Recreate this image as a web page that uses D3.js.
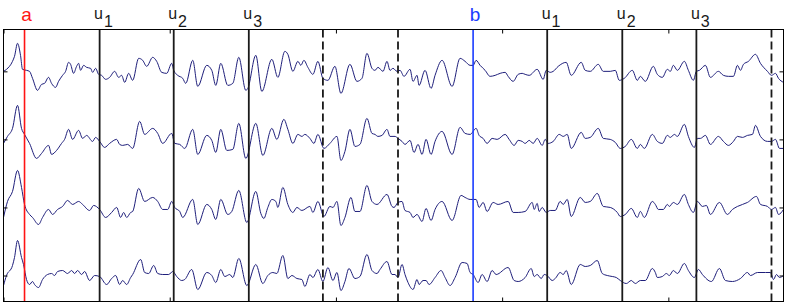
<!DOCTYPE html>
<html>
<head>
<meta charset="utf-8">
<script src="https://cdn.jsdelivr.net/npm/d3@7"></script>
<style>
	body{margin:0;background:#fff;}
	svg{display:block;font-family:"Liberation Sans",Arial,Helvetica,sans-serif;}
</style>
</head>
<body>
<div id="chart"></div>
<script>
//Recording: 1 sample per 1/166 s, amplitude in uV, 68 uV between channel baselines
const fs = 166;
const nSamples = 779;
const uvPerChannel = 68;
const channels = [1,2,3,4];
const xTicks = [0,1,2,3,4]; //seconds
const yTicks = [1,2,3,4];   //channel baselines

//Event markers, in samples
const markerSamples = [21,96,170,245,319,394,469,543,618,692,767];
const markerKinds = ['a','u','u','u','dash','dash','b','u','u','u','dash'];
const markerLabels = ['a','u','u','u','','','b','u','u','u',''];
const markerSubs = ['','1','2','3','','','','1','2','3',''];

//Traces: [sample, uV] keypoints
const trace1 = [[0,0],[3,2],[9,10],[11,15],[14,28],[17,16],[19,2],[23,1],[26,0],[29,-7],[34,-19],[38,-13],[41,-12],[45,-6],[48,-12],[52,-16],[55,-10],[59,-4],[62,0],[65,9],[67,7],[70,-2],[73,5],[75,8],[77,1],[80,6],[83,4],[87,3],[89,-1],[92,3],[95,-3],[98,-4],[102,-8],[106,-6],[111,0],[115,-6],[118,-4],[121,-11],[125,-2],[129,-9],
	[135,13],[139,11],[143,5],[149,14],[153,10],[158,-1],[163,-2],[168,8],[170,1],[174,-4],[179,-7],[182,-12],[189,11],[194,-15],[203,6],[208,1],[212,-14],[217,8],[224,-14],[229,-12],[235,14],[242,-19],[244,-17],[252,16],[258,-20],
	[268,12],[274,-6],[281,20],[284,17],[289,0],[294,10],[297,6],[300,11],[304,4],[309,-3],[314,10],[319,-7],[324,-9],[331,5],[337,-22],[346,7],[353,-10],[358,-7],[363,18],[368,3],[371,1],[374,4],[379,0],[383,10],[386,1],
	[389,3],[393,0],[396,1],[400,-5],[406,2],[409,-10],[413,-4],[415,-14],[421,1],[427,-17],[431,-4],[438,11],[448,-15],[456,13],[461,10],[466,6],[469,6],[472,11],[476,6],[481,1],[486,-5],[491,-4],[496,-2],[501,-1],[504,-5],[509,-10],[514,-3],[518,-2],
	[521,-3],[525,-4],[533,2],[539,-8],[542,1],[546,-1],[549,0],[554,5],[562,9],[567,-4],[577,9],[581,1],[586,0],[594,7],[599,0],[606,0],[611,1],[615,-9],[620,-7],[628,1],[633,-9],[636,-5],[641,-10],[649,5],
	[653,-3],[658,-6],[663,2],[666,0],[669,6],[673,1],[680,10],[684,1],[689,-9],[692,0],[695,1],[701,6],[706,-6],[714,0],[719,-4],[724,-5],[729,-5],[733,6],[736,1],[739,7],[744,10],[751,17],[756,8],[763,0],[767,-4],[771,-2],[774,-7],[779,-11]];

const trace2 = [[0,-4],[4,3],[9,11],[14,34],[18,11],[21,5],[26,-4],[33,-19],[38,-14],[45,-6],[48,-15],[53,-11],[58,-4],[61,0],[65,10],[69,0],[75,9],[79,1],[83,4],[89,-2],[92,2],[96,-2],[101,-8],[106,-4],[113,0],[116,-5],[119,-6],[124,-5],[129,-9],
	[136,18],[141,5],[149,11],[154,6],[159,-4],[168,6],[171,-4],[176,-5],[181,-9],[189,10],[194,-15],[203,4],[208,-1],[212,-13],[217,10],[223,-11],[229,-10],[235,16],[242,-19],[252,16],[259,-16],
	[268,11],[273,0],[280,20],[284,10],[289,-4],[294,5],[298,3],[301,5],[306,1],[310,-4],[314,5],[320,-9],[326,-4],[333,3],[337,-21],[341,-12],[346,10],[351,-7],[356,-5],[363,21],[368,6],[371,5],[374,3],[378,4],[383,10],[386,3],
	[391,3],[394,1],[398,-2],[401,-5],[406,-1],[410,-13],[414,-5],[418,-15],[422,0],[427,-15],[431,-2],[438,8],[448,-15],[456,12],[461,6],[466,5],[472,11],[475,4],[479,1],[483,-4],[488,1],[493,0],[501,5],[505,0],[510,-6],[514,-1],[518,-2],
	[521,-4],[525,-1],[529,-4],[533,1],[538,-6],[541,0],[544,-4],[549,-2],[555,5],[559,3],[563,5],[567,-9],[577,7],[581,1],[586,2],[594,11],[599,1],[606,0],[611,-3],[616,-9],[621,-7],[627,0],[633,-9],[636,-5],[640,-9],[648,5],
	[653,-2],[658,-4],[663,4],[666,2],[670,5],[673,3],[680,15],[684,3],[690,-8],[693,1],[696,1],[701,4],[706,-5],[714,3],[719,-2],[724,-6],[729,-2],[733,3],[738,2],[743,4],[748,5],[751,14],[756,3],[763,-2],[767,-2],[771,0],[775,-9],[779,-9]];

const trace3 = [[0,-10],[4,6],[9,16],[14,37],[18,20],[21,3],[26,-7],[29,-10],[35,-17],[39,-10],[45,-2],[49,-7],[54,-2],[59,1],[64,7],[69,3],[75,6],[79,3],[86,-3],[90,2],[96,-2],[102,-10],[108,-5],[113,0],[117,-10],[120,-5],[123,-10],[127,-5],[129,-4],
	[135,19],[141,6],[149,10],[154,6],[159,-2],[164,-2],[168,6],[171,0],[176,-4],[179,-10],[189,8],[194,-17],[203,3],[208,-2],[212,-12],[217,8],[224,-7],[228,-4],[235,17],[243,-15],[252,16],[257,-6],[260,-11],
	[264,0],[268,8],[272,6],[274,0],[279,20],[284,3],[289,-5],[293,0],[298,-3],[306,1],[309,-5],[314,6],[320,-9],[326,1],[329,0],[333,6],[337,-18],[341,-10],[347,10],[351,-4],[356,-4],[363,22],[368,6],[373,3],[383,13],[388,1],
	[390,0],[394,5],[398,6],[401,-3],[406,-5],[409,-10],[413,-7],[418,-14],[422,-1],[427,-13],[431,-2],[438,6],[448,-13],[457,12],[461,10],[466,8],[472,8],[475,0],[479,5],[483,-4],[489,5],[494,3],[504,6],[509,-5],[514,-5],
	[521,-4],[528,5],[530,-2],[533,4],[535,-4],[538,0],[542,-5],[546,-3],[551,-3],[556,6],[559,3],[563,8],[567,-9],[576,10],[581,5],[586,6],[593,14],[599,1],[606,0],[613,-5],[616,-9],[621,-7],[627,-1],[633,-10],[636,-4],[640,-10],[648,6],
	[651,3],[654,-2],[659,-2],[663,3],[665,1],[669,5],[673,3],[680,13],[684,3],[689,-5],[693,6],[698,1],[702,2],[706,-7],[715,5],[723,-7],[728,-2],[733,1],[743,5],[752,11],[756,3],[763,1],[767,-2],[771,0],[774,-7],[779,-2]];

const trace4 = [[0,-10],[3,0],[9,10],[11,18],[14,35],[18,18],[20,11],[23,-4],[26,-9],[29,-6],[31,-9],[35,-12],[39,-4],[44,1],[48,2],[51,0],[54,4],[59,5],[64,2],[68,5],[71,2],[74,5],[78,1],[81,4],[86,-5],[91,0],[96,-1],[103,-9],[108,-3],[112,0],[116,-9],[119,-5],[123,-9],[127,-2],[129,1],
	[137,16],[141,3],[145,2],[150,10],[154,2],[159,1],[165,1],[169,4],[173,-1],[178,-5],[181,-4],[188,6],[194,-14],[203,3],[208,0],[212,-7],[217,6],[221,-1],[226,1],[229,-2],[235,17],[243,-10],[252,11],[259,-8],
	[264,0],[269,3],[273,2],[279,20],[284,-3],[288,0],[293,-3],[298,-4],[301,-11],[306,1],[309,-2],[314,6],[319,-6],[324,8],[329,-5],[333,3],[337,-15],[341,-6],[345,7],[351,-3],[356,-1],[363,21],[368,5],[373,2],[376,6],[383,14],[388,1],
	[391,1],[394,-2],[398,11],[401,1],[404,-7],[409,-14],[413,-4],[415,-9],[419,-5],[422,-5],[425,-9],[431,-2],[437,5],[441,-2],[446,-10],[451,-2],[458,13],[463,12],[466,3],[469,1],[474,-7],[478,1],[483,-6],[488,5],[492,1],[504,8],[510,-5],[514,-6],
	[521,-2],[527,7],[530,-1],[533,1],[537,-3],[540,1],[543,0],[548,-5],[551,-3],[556,3],[559,1],[562,5],[567,-9],[576,11],[581,9],[586,10],[593,15],[598,2],[603,0],[608,-1],[612,-2],[616,-5],[622,-8],[627,-5],[631,-8],[636,-5],[641,-5],[648,7],
	[651,3],[653,-2],[658,-1],[662,2],[665,0],[669,5],[673,2],[680,12],[684,5],[690,-2],[694,6],[698,1],[707,-6],[715,7],[721,-5],[728,-6],[736,-3],[743,3],[746,0],[753,3],[761,3],[766,3],[769,-4],[772,1],[775,-2],[779,0]];

const traces = [trace1,trace2,trace3,trace4];

//Layout
const width = 788;
const height = 306;
const plot = {l:3.5, r:783.5, t:29.5, b:301.5};

const svg = d3.select('#chart').append('svg')
	.attr('width',width)
	.attr('height',height);

//Scales
const scaleX = d3.scaleLinear().domain([0, nSamples/fs]).range([plot.l, plot.r]);
const scaleY = d3.scaleLinear().domain([0.385, 4.382]).range([plot.t, plot.b]);

svg.append('clipPath').attr('id','clip')
	.append('rect')
	.attr('x',plot.l).attr('y',plot.t)
	.attr('width',plot.r-plot.l).attr('height',plot.b-plot.t);

//Traces
const line = d3.line()
	.x(d => scaleX(d[0]/fs))
	.y(d => scaleY(d[2] - d[1]/uvPerChannel))
	.curve(d3.curveMonotoneX);

svg.append('g')
	.attr('clip-path','url(#clip)')
	.selectAll('.trace')
	.data(traces.map((tr,i) => tr.map(p => [p[0],p[1],channels[i]])))
	.enter()
	.append('path')
	.attr('class','trace')
	.attr('d', line)
	.style('fill','none')
	.style('stroke','#1e1e7a')
	.style('stroke-width',1);

//Event markers
const markerColor = {a:'#ff1414', b:'#1a3cff', u:'#1a1a1a', dash:'#1a1a1a'};
const markers = markerSamples.map((s,i) => ({s, kind:markerKinds[i], label:markerLabels[i], sub:markerSubs[i]}));

svg.selectAll('.marker')
	.data(markers)
	.enter()
	.append('line')
	.attr('class','marker')
	.attr('x1', d => scaleX(d.s/fs))
	.attr('x2', d => scaleX(d.s/fs))
	.attr('y1', plot.t)
	.attr('y2', plot.b)
	.style('stroke', d => markerColor[d.kind])
	.style('stroke-width', d => d.kind === 'u' || d.kind === 'dash' ? 1.8 : 1.6)
	.style('stroke-dasharray', d => d.kind === 'dash' ? '8,4' : null);

//Labels
const labels = svg.selectAll('.label')
	.data(markers.filter(d => d.label))
	.enter()
	.append('text')
	.attr('class','label')
	.attr('x', d => d.sub ? scaleX(d.s/fs) - 5.5 : scaleX(d.s/fs) + 2)
	.attr('y', d => d.sub ? 18.5 : 21)
	.attr('text-anchor', d => d.sub ? 'start' : 'middle')
	.style('font-size', d => d.sub ? '16px' : '19px')
	.style('fill', d => markerColor[d.kind]);
labels.append('tspan').text(d => d.label);
labels.filter(d => d.sub)
	.append('tspan')
	.attr('dx',1)
	.attr('dy',8.3)
	.text(d => d.sub);

//Axes: ticks inside the box on all four sides, no labels
const axes = [
	[d3.axisBottom(scaleX).tickValues(xTicks), `translate(0,${plot.b})`],
	[d3.axisTop(scaleX).tickValues(xTicks), `translate(0,${plot.t})`],
	[d3.axisLeft(scaleY).tickValues(yTicks), `translate(${plot.l},0)`],
	[d3.axisRight(scaleY).tickValues(yTicks), `translate(${plot.r},0)`]
];
axes.forEach(([ax, tr]) => {
	const g = svg.append('g')
		.attr('transform', tr)
		.call(ax.tickSizeInner(-4).tickSizeOuter(0).tickFormat(''));
	g.select('.domain').remove();
	g.selectAll('.tick line').style('stroke','#000');
});

//Box
svg.append('rect')
	.attr('x',plot.l).attr('y',plot.t)
	.attr('width',plot.r-plot.l).attr('height',plot.b-plot.t)
	.style('fill','none')
	.style('stroke','#000')
	.style('stroke-width',1);
</script>
</body>
</html>
